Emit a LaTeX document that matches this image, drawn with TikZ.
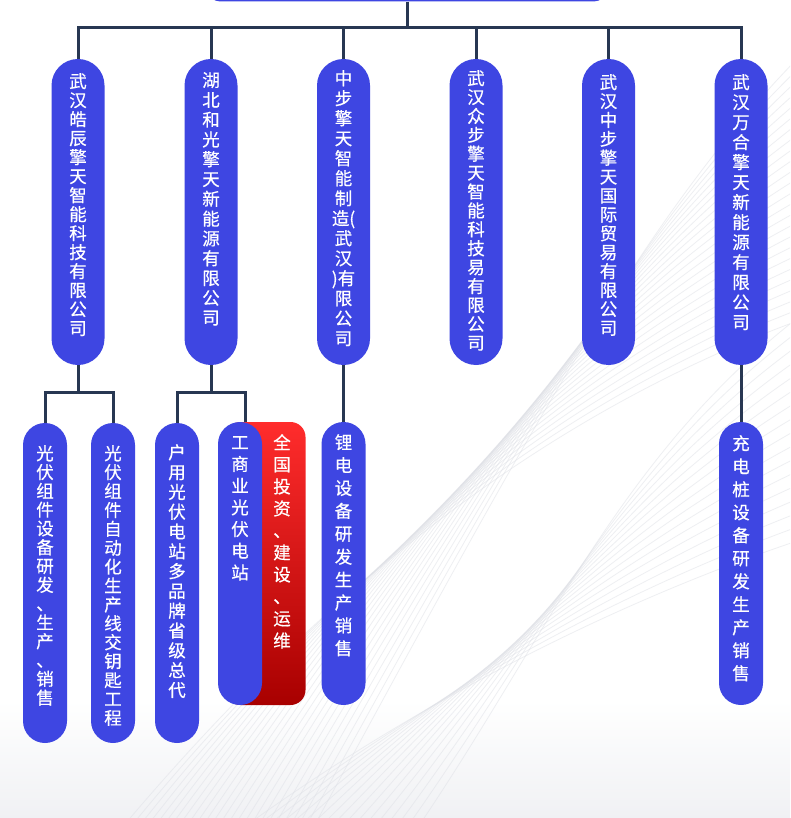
\documentclass[tikz,border=0pt]{standalone}
\usepackage{fontspec}
\newfontfamily\cjk[FakeBold=0.5]{Noto Sans CJK SC}
\definecolor{nodeblue}{RGB}{62,70,226}
\definecolor{linkcol}{RGB}{40,55,82}
\definecolor{redtop}{RGB}{255,44,44}
\definecolor{redbot}{RGB}{168,0,0}
\definecolor{streakcol}{RGB}{222,224,230}
\tikzset{
  lvlone/.style={fill=nodeblue, rounded corners=26.5pt, minimum width=53pt, minimum height=306pt, inner sep=0pt},
  lvltwo/.style={fill=nodeblue, rounded corners=22pt, minimum width=44pt, minimum height=#1, inner sep=0pt},
  redbox/.style={top color=redtop, bottom color=redbot, rounded corners=15pt, minimum width=80pt, minimum height=283pt, inner sep=0pt},
  topbox/.style={fill=nodeblue, rounded corners=12pt, minimum width=398pt, minimum height=43pt, inner sep=0pt},
  vtxt/.style={text=white, font=\cjk\fontsize{17.5}{#1}\selectfont, align=center, anchor=north, inner sep=0pt},
  link/.style={draw=linkcol, line width=3pt},
  streak/.style={draw=streakcol, line width=0.8pt, opacity=0.5},
}
\begin{document}
\begin{tikzpicture}[x=1pt,y=-1pt]
\useasboundingbox (0,0) rectangle (790,818);
\clip (0,0) rectangle (790,818);
\fill[white] (0,0) rectangle (790,818);
\fill[top color=white, bottom color=streakcol!45] (0,700) rectangle (790,818);
% faint feather-like background streaks
\foreach \i in {0,...,24}{
  \draw[streak] (120+8*\i,830) .. controls (280+10*\i,640-8*\i) and (500+6*\i,430-9*\i) .. (800,320-11*\i);
}
\foreach \i in {0,...,16}{
  \draw[streak] (240+11*\i,830) .. controls (420+8*\i,700-4*\i) and (620,600-9*\i) .. (800,540-14*\i);
}

% top box (mostly outside the page)
\node[topbox] (top) at (407,-20) {};

% level one boxes
\node[lvlone] (n1) at (78,212) {};
\node[lvlone] (n2) at (211,212) {};
\node[lvlone] (n3) at (343.5,212) {};
\node[lvlone] (n4) at (476,212) {};
\node[lvlone] (n5) at (608.5,212) {};
\node[lvlone] (n6) at (741,212) {};

% level two boxes
\node[lvltwo=320pt] (a) at (45,583) {};
\node[lvltwo=320pt] (b) at (113,583) {};
\node[lvltwo=320pt] (c) at (177,583) {};
\node[redbox] (rd) at (265.5,563.5) {};
\node[lvltwo=283pt] (ci) at (240,563.5) {};
\node[lvltwo=283pt] (li) at (343.5,563.5) {};
\node[lvltwo=283pt] (ch) at (741,563.5) {};

% connectors
\coordinate (bus) at (407,28);
\coordinate (busa) at (78,392);
\coordinate (busb) at (211,392);
\draw[link] (top.south) -- (bus);
\draw[link] (n1.north) |- (bus) -| (n6.north);
\draw[link] (n2.north) -- (n2.north |- bus);
\draw[link] (n3.north) -- (n3.north |- bus);
\draw[link] (n4.north) -- (n4.north |- bus);
\draw[link] (n5.north) -- (n5.north |- bus);
\draw[link] (n1.south) -- (busa);
\draw[link] (a.north) |- (busa) -| (b.north);
\draw[link] (n2.south) -- (busb);
\draw[link] (c.north) |- (busb) -| ([xshift=5pt]ci.north);
\draw[link] (n3.south) -- (li.north);
\draw[link] (n6.south) -- (ch.north);

% texts
\node[vtxt=19pt] (t1) at (78,73) {武\\汉\\皓\\辰\\擎\\天\\智\\能\\科\\技\\有\\限\\公\\司};
\node[vtxt=19.8pt] (t2) at (211,72) {湖\\北\\和\\光\\擎\\天\\新\\能\\源\\有\\限\\公\\司};
\node[vtxt=20pt] (t3) at (343.5,70) {中\\步\\擎\\天\\智\\能\\制\\造(\\武\\汉\\)有\\限\\公\\司};
\node[vtxt=18.9pt] (t4) at (476,70) {武\\汉\\众\\步\\擎\\天\\智\\能\\科\\技\\易\\有\\限\\公\\司};
\node[vtxt=18.9pt] (t5) at (608.5,74) {武\\汉\\中\\步\\擎\\天\\国\\际\\贸\\易\\有\\限\\公\\司};
\node[vtxt=20pt] (t6) at (741,74) {武\\汉\\万\\合\\擎\\天\\新\\能\\源\\有\\限\\公\\司};

\node[vtxt=18.8pt] (ta) at (45,445) {光\\伏\\组\\件\\设\\备\\研\\发\\、\\生\\产\\、\\销\\售};
\node[vtxt=18.9pt] (tb) at (113,445) {光\\伏\\组\\件\\自\\动\\化\\生\\产\\线\\交\\钥\\匙\\工\\程};
\node[vtxt=19.8pt] (tc) at (177,444) {户\\用\\光\\伏\\电\\站\\多\\品\\牌\\省\\级\\总\\代};
\node[vtxt=21.7pt] (tci) at (240,436) {工\\商\\业\\光\\伏\\电\\站};
\node[vtxt=22pt] (trd) at (282,434) {全\\国\\投\\资\\、\\建\\设\\、\\运\\维};
\node[vtxt=22.9pt] (tli) at (343.5,434) {锂\\电\\设\\备\\研\\发\\生\\产\\销\\售};
\node[vtxt=23pt] (tch) at (741,435) {充\\电\\桩\\设\\备\\研\\发\\生\\产\\销\\售};
\end{tikzpicture}
\end{document}
